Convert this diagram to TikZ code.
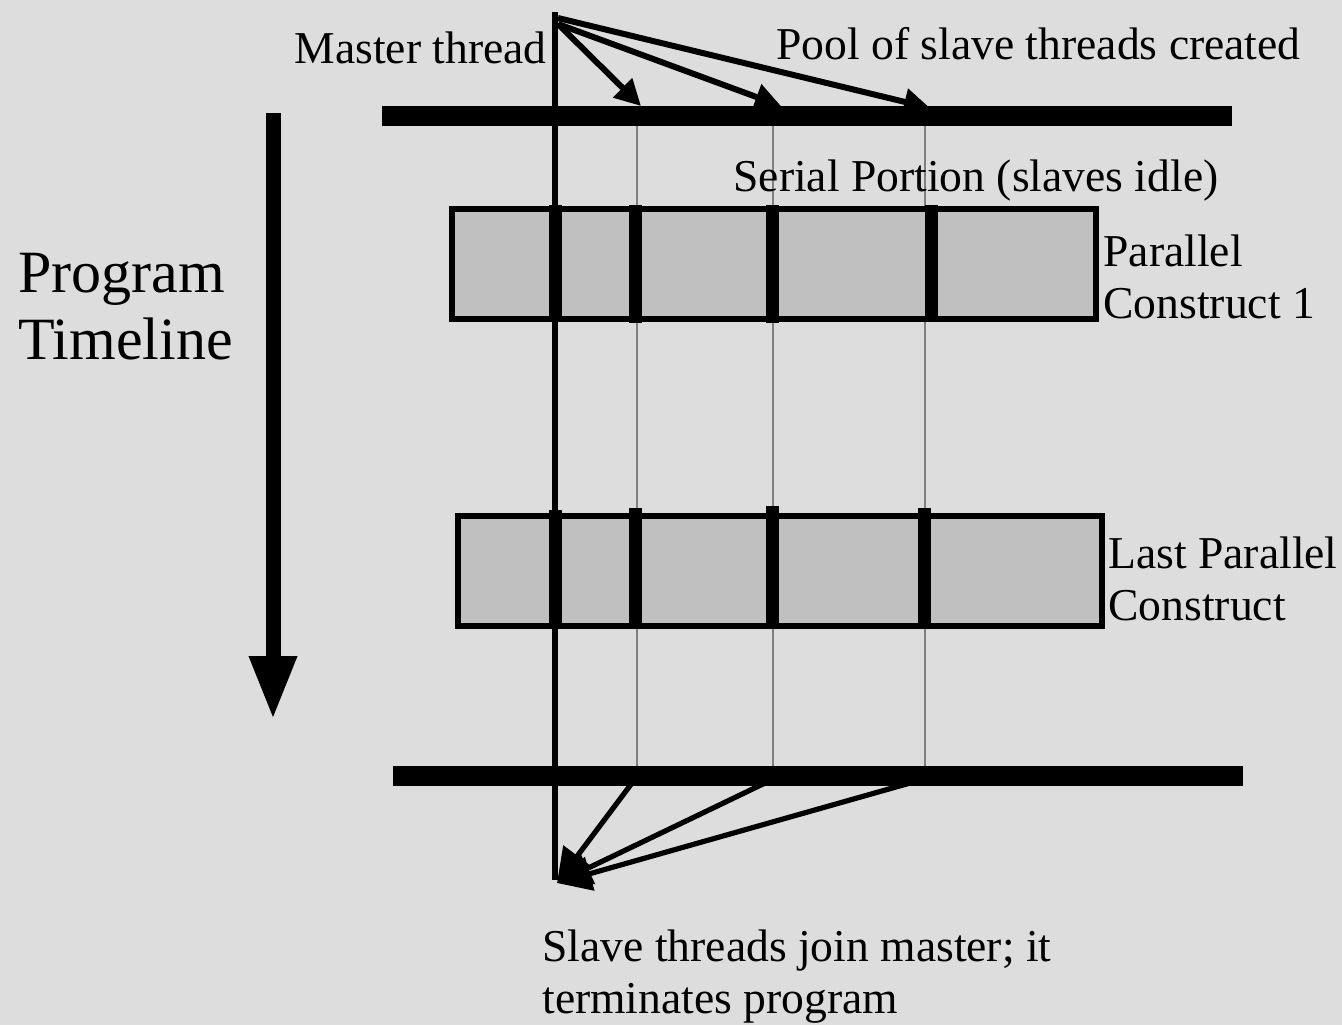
\documentclass[tikz,border=0pt]{standalone}
\usepackage{fontspec}
\setmainfont{Liberation Serif}
\usetikzlibrary{arrows.meta}
\definecolor{bgray}{HTML}{DDDDDD}
\definecolor{boxgray}{HTML}{C0C0C0}
\definecolor{thingray}{HTML}{808080}
\tikzset{
  lbl/.style={inner sep=0pt, font=\fontsize{22.8}{26}\selectfont, align=left},
  biglbl/.style={inner sep=0pt, font=\fontsize{30}{33.5}\selectfont, align=left},
  bar/.style={line width=10pt},
  construct/.style={draw, line width=3pt, fill=boxgray, rectangle, inner sep=0pt, anchor=north west},
  thread/.style={draw=thingray, line width=0.6pt},
  forkarrow/.style={line width=3pt, -{Triangle[length=13pt,width=13pt]}},
  joinarrow/.style={line width=2.6pt, -{Triangle[length=17pt,width=17pt]}},
  tick/.style={line width=6.5pt},
}
\begin{document}
\begin{tikzpicture}[x=0.5pt,y=-0.5pt]
  % page background
  \fill[bgray] (0,0) rectangle (1342,1025);
  \useasboundingbox (0,0) rectangle (1342,1025);

  % fork and join bars
  \coordinate (forkL) at (382,116);
  \coordinate (forkR) at (1232,116);
  \coordinate (joinL) at (393,776);
  \coordinate (joinR) at (1243,776);

  % slave thread lines
  \coordinate (s1top) at (637,116); \coordinate (s1bot) at (637,776);
  \coordinate (s2top) at (773,116); \coordinate (s2bot) at (773,776);
  \coordinate (s3top) at (925,116); \coordinate (s3bot) at (925,776);
  \draw[thread] (s1top) -- (s1bot);
  \draw[thread] (s2top) -- (s2bot);
  \draw[thread] (s3top) -- (s3bot);

  % parallel constructs
  \node[construct, minimum width=322pt, minimum height=55pt] (pc1) at (449,206) {};
  \node[construct, minimum width=322pt, minimum height=55pt] (pc2) at (455,513) {};

  % thread ticks inside the constructs
  \draw[tick] (555,205) -- (555,318);
  \draw[tick] (635,205) -- (635,323);
  \draw[tick] (772,205) -- (772,323);
  \draw[tick] (931,205) -- (931,320);
  \draw[tick] (555,510) -- (555,625);
  \draw[tick] (635,508) -- (635,627);
  \draw[tick] (772,506) -- (772,627);
  \draw[tick] (924,508) -- (924,627);

  % master thread
  \coordinate (mtop) at (555,12);
  \coordinate (mbot) at (555,880);
  \draw[line width=2.6pt] (mtop) -- (mbot);

  \draw[bar] (forkL) -- (forkR);
  \draw[bar] (joinL) -- (joinR);

  % fork arrows
  \coordinate (f0) at (558,24);
  \coordinate (f1) at (558,18);
  \coordinate (t1) at (641,106);
  \coordinate (t2) at (781,106);
  \coordinate (t3) at (930,108);
  \draw[forkarrow] (f0) -- (t1);
  \draw[forkarrow] (f0) -- (t2);
  \draw[forkarrow] (f1) -- (t3);

  % join arrows
  \coordinate (jtip) at (557,883);
  \coordinate (j1) at (632,783);
  \coordinate (j2) at (765,783);
  \coordinate (j3) at (910,783);
  \draw[joinarrow] (j1) -- (jtip);
  \draw[joinarrow] (j2) -- (jtip);
  \draw[joinarrow] (j3) -- (jtip);

  % program timeline arrow
  \coordinate (tl0) at (273,113);
  \coordinate (tl1) at (273,720);
  \draw[line width=7.5pt, -{Triangle[length=32pt,width=22pt]}] (tl0) -- (tl1);

  % labels (base anchor of a two-line node sits on its last line)
  \node[lbl, anchor=base east] (master) at (547,63) {Master thread};
  \node[lbl, anchor=base west] (pool) at (776,59) {Pool of slave threads created};
  \node[lbl, anchor=base west] (serial) at (733,191) {Serial Portion (slaves idle)};
  \node[biglbl, anchor=base west] (timeline) at (18,359) {Program\\Timeline};
  \node[lbl, anchor=base west] (pc1lbl) at (1103,318) {Parallel\\Construct 1};
  \node[lbl, anchor=base west] (pc2lbl) at (1108,620) {Last Parallel\\Construct};
  \node[lbl, anchor=base west] (joinlbl) at (542,1013) {Slave threads join master; it\\terminates program};
\end{tikzpicture}
\end{document}
